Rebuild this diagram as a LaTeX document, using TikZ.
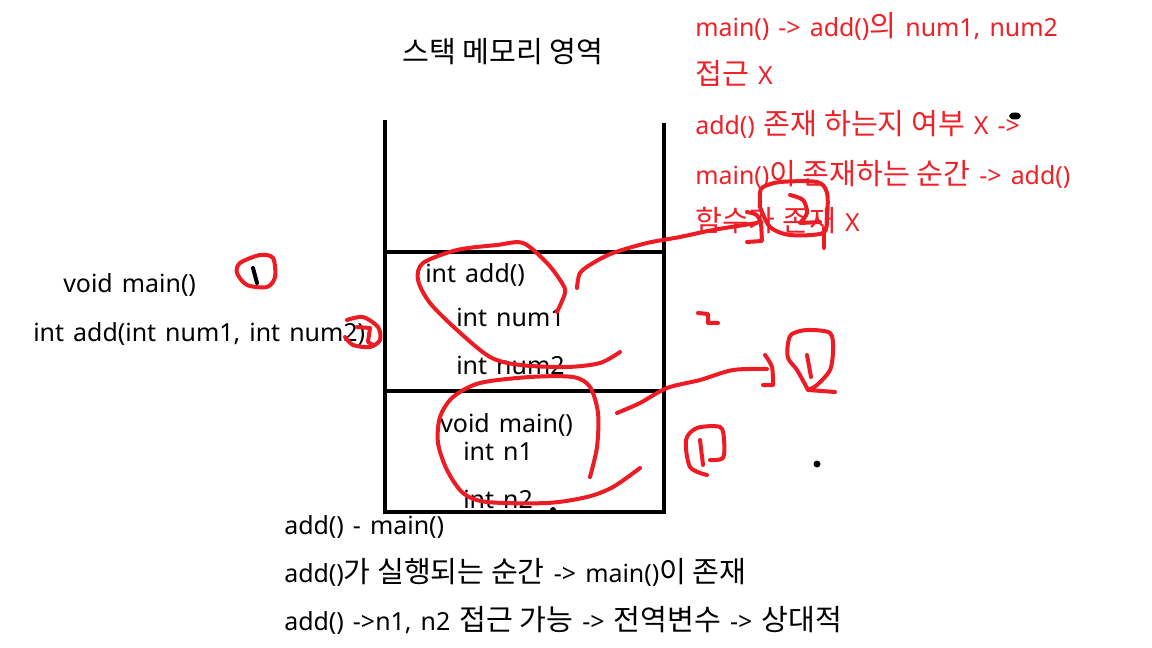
\documentclass[tikz,border=0pt]{standalone}
\usepackage{fontspec}
\setmainfont{Noto Sans}[WordSpace=1.4]
\newfontfamily\kr{Noto Sans CJK KR}[Scale=1.17]
\definecolor{pen}{RGB}{237,28,36}
\definecolor{redtext}{RGB}{240,32,40}
\begin{document}
\begin{tikzpicture}[x=0.75pt,y=-0.75pt,
  txt/.style={anchor=base west, inner sep=0pt, font=\fontsize{18.7}{22}\selectfont},
  rtxt/.style={txt, text=redtext},
  wall/.style={line width=3.4pt, line cap=rect},
  pen/.style={draw=pen, line width=3pt, line cap=round, line join=round},
  blackpen/.style={draw=black, line width=3pt, line cap=round}]
\useasboundingbox[fill=white] (0,0) rectangle (1152,648);

% stack
\draw[wall] (385,122) -- (385,512);
\draw[wall] (664,125) -- (664,512);
\draw[wall] (385,252) -- (664,252);
\draw[wall] (385,391) -- (664,391);

% title
\node[txt, anchor=base] (title) at (503,63) {\kr 스택 메모리 영역};

% stack contents
\node[txt] (sadd) at (425,283) {int add()};
\node[txt] (snum1) at (456,326) {int num1};
\node[txt] (snum2) at (456,374) {int num2};
\node[txt] (smain) at (440,432) {void main()};
\node[txt] (sn1) at (463,460) {int n1};
\node[txt] (sn2) at (463,508) {int n2};
\fill[white] (386,514) rectangle (663,530);
\draw[wall] (385,512) -- (664,512);

% left
\node[txt] (lmain) at (63,293) {void main()};
\node[txt] (ladd) at (33,342) {int add(int num1, int num2)};

% red notes
\node[rtxt] (r1) at (695,37) {main() -> add(){\kr 의} num1, num2};
\node[rtxt] (r2) at (695,85) {{\kr 접근} X};
\node[rtxt] (r3) at (695,135) {add() {\kr 존재 하는지 여부} X ->};
\node[rtxt] (r4) at (695,185) {main(){\kr 이 존재하는 순간} -> add()};
\node[rtxt] (r5) at (695,232) {{\kr 함수가 존재} X};

% bottom notes
\node[txt] (b1) at (284,534) {add() - main()};
\node[txt] (b2) at (284,582) {add(){\kr 가 실행되는 순간} -> main(){\kr 이 존재}};
\node[txt] (b3) at (284,630) {add() ->n1, n2 {\kr 접근 가능} -> {\kr 전역변수} -> {\kr 상대적}};

% red strokes
\draw[pen] plot[smooth] coordinates {(557,312) (565,293) (562,283) (547,263) (523,243) (497,245) (457,250) (423,263) (418,280) (430,303) (457,330) (490,357) (520,365) (567,367) (600,363) (620,352)};
\draw[pen] plot[smooth] coordinates {(577,288) (580,273) (593,263) (613,253) (647,243) (680,237) (713,230) (757,223)};
\draw[pen] (747,212) .. controls (757,214) .. (761,222) -- (762,241) -- (747,242);
\draw[pen] plot[smooth] coordinates {(760,207) (760,193) (763,187) (780,182) (817,182) (827,193) (827,217) (823,233) (790,235) (770,227) (760,207)};
\draw[pen] (824,228) -- (824,248);
\draw[pen] plot[smooth] coordinates {(790,195) (803,200) (807,213) (800,223)} -- (820,222);

\draw[pen] plot[smooth] coordinates {(590,477) (597,447) (598,413) (590,387) (573,377) (530,377) (480,383) (453,397) (440,417) (438,443) (447,470) (463,493) (487,502) (547,503) (587,497) (613,487) (640,468)};
\draw[pen] plot[smooth] coordinates {(617,413) (640,403) (667,388) (700,380) (733,370) (767,369)};
\draw[pen] plot[smooth] coordinates {(765,355) (772,367) (773,385)} -- (763,385);
\draw[pen] plot[smooth] coordinates {(808,390) (797,370) (788,358) (788,343) (792,334) (807,330) (830,333) (833,350) (830,370) (817,385) (808,390)} -- (835,392);
\draw[pen] (807,355) -- (811,377);

\draw[pen] (698,313) -- (708,314) -- (708,323) -- (718,323);
\draw[pen] plot[smooth] coordinates {(710,460) (723,458) (724,440) (720,427) (697,428) (686,440) (690,467) (707,475)};
\draw[pen] (700,440) -- (703,465);

\draw[pen] plot[smooth cycle] coordinates {(240,263) (260,255) (273,258) (275,277) (267,287) (247,285) (237,273)};
\draw[blackpen] (253,268) -- (257,283);
\draw[pen] plot[smooth] coordinates {(347,320) (363,317) (378,327) (380,340) (370,347) (353,345) (345,337)};
\draw[pen] (357,327) -- (370,328) -- (368,342) -- (373,345);

% black dots
\fill (817,464) circle[radius=3.5];
\fill (1015,116) ellipse[x radius=6, y radius=3.5];
\fill (553,510) circle[radius=3];
\end{tikzpicture}
\end{document}
